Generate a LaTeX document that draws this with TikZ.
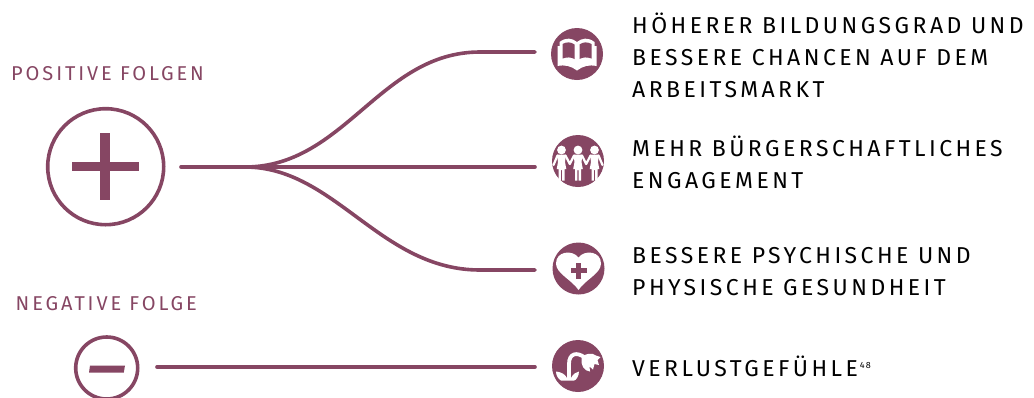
\documentclass[tikz,border=0pt]{standalone}
\usepackage{fontspec}
\setmainfont{Fira Sans}[LetterSpace=15]
\newfontfamily\lblfont{Fira Sans}[LetterSpace=14.5]
\definecolor{plum}{HTML}{864663}
\tikzset{
  x=1pt,y=-1pt,
  ring/.style={circle,draw=plum,line width=3.6pt,fill=white,minimum size=#1,inner sep=0pt},
  badge/.style={circle,fill=plum,minimum size=52pt,inner sep=0pt},
  conn/.style={draw=plum,line width=3.6pt,line cap=round},
  heading/.style={text=plum,font=\lblfont\fontsize{20}{24}\selectfont,anchor=west,inner sep=0pt},
  item/.style={text=black,font=\fontsize{23}{32}\selectfont,anchor=west,align=left,inner sep=0pt},
  ico/.style={fill=white,draw=none}
}
\begin{document}
\begin{tikzpicture}
\useasboundingbox (0,0) rectangle (1034,397);
\clip (0,0) rectangle (1034,397);
% headings
\node[heading] (hpos) at (11,73.5) {POSITIVE FOLGEN};
\node[heading] (hneg) at (15.5,304) {NEGATIVE FOLGE};
% rings
\node[ring=116pt] (plus) at (105.7,166.7) {};
\node[ring=62pt] (minus) at (106.7,368) {};
\fill[plum] (71.7,161.8) rectangle (138.5,171.4);
\fill[plum] (100.3,132.8) rectangle (110,200);
\fill[plum] (90,365.5) -- (125,365.5) -- (123.8,372.5) -- (89,372.5) -- cycle;
% badges
\node[badge] (book) at (577,54) {};
\node[badge] (people) at (578,161) {};
\node[badge] (heart) at (578.5,268.5) {};
\node[badge] (flower) at (578,366) {};
% connector ends
\coordinate (s1) at (181,167);
\coordinate (hub) at (245,167);
\coordinate (e1) at (535,52);
\coordinate (e2) at (535,167);
\coordinate (e3) at (535,270);
\coordinate (s4) at (157,367);
\coordinate (e4) at (535,367);
\draw[conn] (s1) -- (e2);
\draw[conn] (hub) .. controls (345,167) and (380,52) .. (480,52) -- (e1);
\draw[conn] (hub) .. controls (335,167) and (380,270) .. (480,270) -- (e3);
\draw[conn] (s4) -- (e4);
% book icon
\begin{scope}[shift={(book.center)}]
\fill[ico] (-19.5,-8) -- (-17.5,-8) -- (-17.5,-12) .. controls (-11,-17) and (-5,-16) .. (0,-12) .. controls (5,-16) and (11,-17) .. (17.5,-12) -- (17.5,-8) -- (19.5,-8) -- (19.5,12) .. controls (12,10.5) and (6,12) .. (0,16.5) .. controls (-6,12) and (-12,10.5) .. (-19.5,12) -- cycle;
\fill[plum] (-14.5,-10) .. controls (-10,-12.5) and (-6,-12) .. (-2.5,-9.5) -- (-2.5,5) .. controls (-6,3) and (-10,3) .. (-14.5,4.5) -- cycle;
\fill[plum] (14.5,-10) .. controls (10,-12.5) and (6,-12) .. (2.5,-9.5) -- (2.5,5) .. controls (6,3) and (10,3) .. (14.5,4.5) -- cycle;
\end{scope}
% people icon
\begin{scope}[shift={(people.center)}]
\foreach \dx in {-16.5,0,16.5}{
  \begin{scope}[shift={(\dx,0)}]
  \fill[ico] (0,-11) circle (4.4);
  \fill[ico] (-4.5,-6.5) -- (4.5,-6.5) -- (3.5,1) -- (4.8,8) -- (3,8) -- (3,19.5) -- (0.6,19.5) -- (0.6,9) -- (-0.6,9) -- (-0.6,19.5) -- (-3,19.5) -- (-3,8) -- (-4.8,8) -- (-3.5,1) -- cycle;
  \end{scope}
}
\draw[white,line width=2.2pt,line cap=round] (-20.5,-5.5) -- (-24.5,4) (-12.5,-5.5) -- (-8.2,3) (-4,-5.5) -- (-8.2,3) (4,-5.5) -- (8.2,3) (12.5,-5.5) -- (8.2,3) (20.5,-5.5) -- (24.5,4);
\end{scope}
% heart icon
\begin{scope}[shift={(heart.center)}]
\fill[ico] (0,21.5) .. controls (-7,11) and (-22.5,5) .. (-22.5,-5) .. controls (-22.5,-17.5) and (-6,-19) .. (0,-11) .. controls (6,-19) and (22.5,-17.5) .. (22.5,-5) .. controls (22.5,5) and (7,11) .. (0,21.5) -- cycle;
\fill[plum] (-8,-0.2) rectangle (8,4.8);
\fill[plum] (-2.5,-5.5) rectangle (2.5,10);
\end{scope}
% flower icon
\begin{scope}[shift={(flower.center)}]
\draw[white,line width=3.8pt] (-9,13) -- (-9,-2) .. controls (-9,-13) and (-1,-14) .. (6,-9);
\fill[ico] (-22,5.5) .. controls (-17,6) and (-13,8) .. (-11,12) -- (-7,12) .. controls (-5,8) and (-2,6) .. (1,5.5) .. controls (1,10) and (-2,14.5) .. (-4,14.5) -- (-17,14.5) .. controls (-20,13) and (-22,9) .. (-22,5.5) -- cycle;
\fill[ico] (3.5,-8) .. controls (2.5,-1) and (6,5) .. (12,5.5) -- (11.5,0.5) -- (15,3.5) -- (16.5,-2) -- (21,-1) -- (19.5,-6) -- (22.5,-9) -- (18,-10.5) .. controls (15,-13.5) and (6,-13) .. (3.5,-8) -- cycle;
\end{scope}
% item labels
\node[item] (t1) at (632,55) {HÖHERER BILDUNGSGRAD UND\\BESSERE CHANCEN AUF DEM\\ARBEITSMARKT};
\node[item] (t2) at (632,162) {MEHR BÜRGERSCHAFTLICHES\\ENGAGEMENT};
\node[item] (t3) at (632,272) {BESSERE PSYCHISCHE UND\\PHYSISCHE GESUNDHEIT};
\node[item] (t4) at (632,366) {VERLUSTGEFÜHLE\hspace{2pt}\raisebox{8pt}{\fontsize{9}{9}\selectfont 48}};
\end{tikzpicture}
\end{document}
